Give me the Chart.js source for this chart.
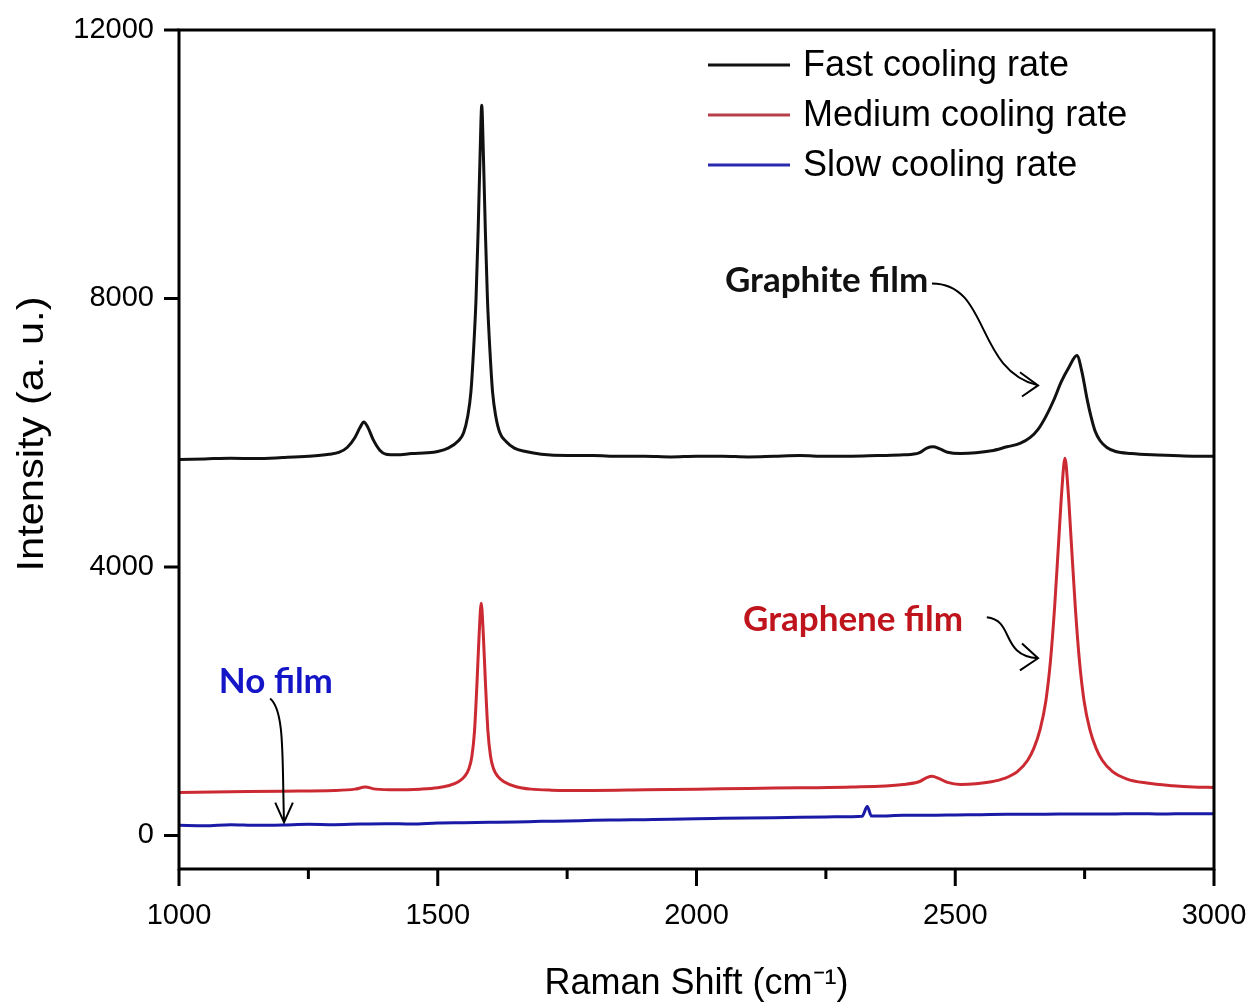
<!DOCTYPE html>
<html><head><meta charset="utf-8">
<script src="https://cdn.jsdelivr.net/npm/chart.js@4/dist/chart.umd.min.js"></script>
<style>html,body{margin:0;padding:0;background:#fff;}canvas{display:block;}</style>
</head><body>
<canvas id="c" width="1252" height="1008"></canvas>
<script>
// ---- data ----
const seriesLabels = ['Fast cooling rate', 'Medium cooling rate', 'Slow cooling rate'];
const xTitle = 'Raman Shift (cm⁻¹)';
const yTitle = 'Intensity (a. u.)';

const fastX = [1000,1050,1100,1150,1200,1250,1290,1310,1325,1340,1350,1357,1365,1375,1388,1400,1420,1450,1480,1500,1520,1540,1550,1558,1564,1569,1574,1578,1582,1585,1588,1592,1596,1601,1606,1612,1620,1632,1648,1670,1700,1750,1800,1850,1900,1950,2000,2050,2100,2150,2200,2250,2300,2350,2400,2430,2445,2457,2470,2485,2510,2540,2570,2600,2625,2645,2660,2675,2690,2705,2720,2735,2745,2754,2762,2770,2780,2793,2810,2840,2880,2920,2960,3000];
const fastY = [5600,5610,5620,5615,5630,5650,5680,5710,5780,5930,6080,6160,6080,5900,5740,5680,5670,5690,5700,5720,5770,5880,6000,6250,6600,7200,8000,9000,10200,10880,10200,9000,8000,7200,6600,6250,6000,5870,5770,5720,5680,5660,5660,5650,5650,5640,5650,5650,5640,5650,5660,5650,5650,5660,5670,5700,5770,5790,5760,5710,5690,5700,5730,5790,5840,5930,6050,6240,6480,6760,6980,7150,6900,6530,6250,6030,5880,5780,5720,5690,5670,5660,5650,5650];

const mediumX = [1000,1100,1200,1300,1340,1360,1380,1420,1466,1500,1520,1540,1552,1560,1566,1571,1576,1580,1584,1588,1592,1597,1602,1608,1616,1628,1650,1680,1720,1800,1900,2000,2100,2200,2300,2400,2430,2445,2455,2468,2485,2510,2540,2570,2595,2620,2640,2652,2664,2675,2684,2692,2700,2706,2712,2718,2724,2732,2740,2749,2760,2772,2784,2804,2832,2870,2920,2960,3000];
const mediumY = [640,650,660,670,690,720,690,680,690,710,740,800,880,990,1180,1550,2300,3000,3460,3000,2300,1550,1180,990,880,800,730,690,675,670,680,690,700,710,720,760,800,860,880,850,790,760,770,800,850,950,1120,1300,1580,2000,2600,3400,4400,5150,5620,5150,4400,3400,2600,2000,1580,1300,1120,950,840,780,740,720,715];

const slowX = [1000,1050,1100,1150,1200,1250,1300,1350,1400,1450,1500,1550,1600,1650,1700,1750,1800,1850,1900,1950,2000,2050,2100,2150,2200,2250,2300,2320,2330,2338,2350,2400,2450,2500,2550,2600,2650,2700,2750,2800,2850,2900,2950,3000];
const slowY = [150,145,160,150,155,165,160,170,175,170,185,190,195,200,210,215,225,230,235,240,250,255,260,265,270,275,280,285,430,290,290,300,300,305,310,315,315,320,320,320,325,320,325,325];

const xMajorTicks = [1000,1500,2000,2500,3000];
const xMinorTicks = [1250,1750,2250,2750];
const yMajorTicks = [0,4000,8000,12000];

const seriesColors = ['#111111', '#cc2a32', '#1a1aa6'];
const legendColors = ['#111111', '#b8404a', '#2a2ab0'];

// annotations (data units)
const annotationTexts = [
  {text: 'Graphite film', x: 2055, y: 8270, color: '#111111'},
  {text: 'Graphene film', x: 2090, y: 3220, color: '#c0141c'},
  {text: 'No film', x: 1077, y: 2295, color: '#1515c8'}
];
const annotationArrows = [
  {p: [[2455,8225],[2567,8225],[2538,6930],[2660,6705]], w: [[2625,6900],[2629,6540]]},
  {p: [[2561,3250],[2615,3205],[2586,2680],[2660,2640]], w: [[2629,2860],[2625,2460]]},
  {p: [[1176,2040],[1205,1860],[1199,1120],[1203,195]], w: [[1186,490],[1220,490]]}
];

function pts(xs, ys) { return xs.map((x, i) => ({x: x, y: ys[i]})); }

const FONT = '"Liberation Sans", Arial, sans-serif';

const decor = {
  id: 'decor',
  afterDatasetsDraw(chart) {
    const ctx = chart.ctx, a = chart.chartArea;
    const xs = chart.scales.x, ys = chart.scales.y;
    ctx.save();
    ctx.strokeStyle = '#000';
    ctx.lineWidth = 3;
    ctx.lineCap = 'square';
    ctx.strokeRect(a.left, a.top, a.right - a.left, a.bottom - a.top);
    ctx.lineCap = 'butt';
    ctx.beginPath();
    xMajorTicks.forEach(v => { const p = xs.getPixelForValue(v); ctx.moveTo(p, a.bottom); ctx.lineTo(p, a.bottom + 17); });
    xMinorTicks.forEach(v => { const p = xs.getPixelForValue(v); ctx.moveTo(p, a.bottom); ctx.lineTo(p, a.bottom + 10); });
    yMajorTicks.forEach(v => { const p = ys.getPixelForValue(v); ctx.moveTo(a.left, p); ctx.lineTo(a.left - 15, p); });
    ctx.stroke();

    // y-axis title (rotated, fitted to the reference length)
    ctx.save();
    ctx.translate(33, 434);
    ctx.rotate(-Math.PI / 2);
    ctx.font = '36px ' + FONT;
    const w = ctx.measureText(yTitle).width;
    ctx.scale(275 / w, 1);
    ctx.fillStyle = '#000';
    ctx.textAlign = 'center'; ctx.textBaseline = 'middle';
    ctx.fillText(yTitle, 0, 0);
    ctx.restore();

    // legend
    chart.data.datasets.forEach((ds, i) => {
      const y = 65 + i * 50;
      ctx.strokeStyle = legendColors[i];
      ctx.lineWidth = 3;
      ctx.beginPath(); ctx.moveTo(708, y); ctx.lineTo(790, y); ctx.stroke();
      ctx.fillStyle = '#000';
      ctx.font = '36px ' + FONT;
      ctx.textAlign = 'left'; ctx.textBaseline = 'middle';
      ctx.fillText(ds.label, 803, y + 1);
    });

    // annotations
    ctx.font = 'bold 35px Lato, "Open Sans", sans-serif';
    ctx.textAlign = 'left'; ctx.textBaseline = 'middle';
    annotationTexts.forEach(t => {
      ctx.fillStyle = t.color;
      ctx.fillText(t.text, xs.getPixelForValue(t.x), ys.getPixelForValue(t.y));
    });
    ctx.strokeStyle = '#000'; ctx.lineWidth = 2;
    annotationArrows.forEach(ar => {
      const P = ar.p.map(q => [xs.getPixelForValue(q[0]), ys.getPixelForValue(q[1])]);
      const W = ar.w.map(q => [xs.getPixelForValue(q[0]), ys.getPixelForValue(q[1])]);
      ctx.beginPath();
      ctx.moveTo(P[0][0], P[0][1]);
      ctx.bezierCurveTo(P[1][0], P[1][1], P[2][0], P[2][1], P[3][0], P[3][1]);
      ctx.stroke();
      ctx.beginPath();
      ctx.moveTo(W[0][0], W[0][1]); ctx.lineTo(P[3][0], P[3][1]); ctx.lineTo(W[1][0], W[1][1]);
      ctx.stroke();
    });
    ctx.restore();
  }
};

new Chart(document.getElementById('c'), {
  type: 'line',
  data: {
    datasets: [
      {label: seriesLabels[0], data: pts(fastX, fastY), borderColor: seriesColors[0]},
      {label: seriesLabels[1], data: pts(mediumX, mediumY), borderColor: seriesColors[1]},
      {label: seriesLabels[2], data: pts(slowX, slowY), borderColor: seriesColors[2]}
    ]
  },
  options: {
    responsive: false,
    animation: false,
    devicePixelRatio: 1,
    elements: {
      point: {radius: 0, hoverRadius: 0},
      line: {borderWidth: 3, cubicInterpolationMode: 'monotone', fill: false}
    },
    layout: {padding: {top: 30, right: 38, left: 0, bottom: 0}},
    plugins: {legend: {display: false}, tooltip: {enabled: false}},
    scales: {
      x: {
        type: 'linear', min: 1000, max: 3000,
        afterBuildTicks: s => { s.ticks = xMajorTicks.map(v => ({value: v})); },
        afterFit: s => { s.height = 139; s.paddingLeft = 0; s.paddingRight = 0; },
        grid: {display: false, drawTicks: false},
        border: {display: false},
        ticks: {color: '#000', font: {family: FONT, size: 29}, padding: 30, maxRotation: 0, autoSkip: false,
                callback: v => String(v)},
        title: {display: true, text: xTitle, color: '#000', font: {family: FONT, size: 36}, padding: {top: 0, bottom: 2}}
      },
      y: {
        type: 'linear', min: -500, max: 12000,
        afterBuildTicks: s => { s.ticks = yMajorTicks.map(v => ({value: v})); },
        afterFit: s => { s.width = 179; s.paddingTop = 0; s.paddingBottom = 0; },
        grid: {display: false, drawTicks: false},
        border: {display: false},
        ticks: {color: '#000', font: {family: FONT, size: 29}, padding: 25, callback: v => String(v)},
        title: {display: false}
      }
    }
  },
  plugins: [decor]
});
</script>
</body></html>
